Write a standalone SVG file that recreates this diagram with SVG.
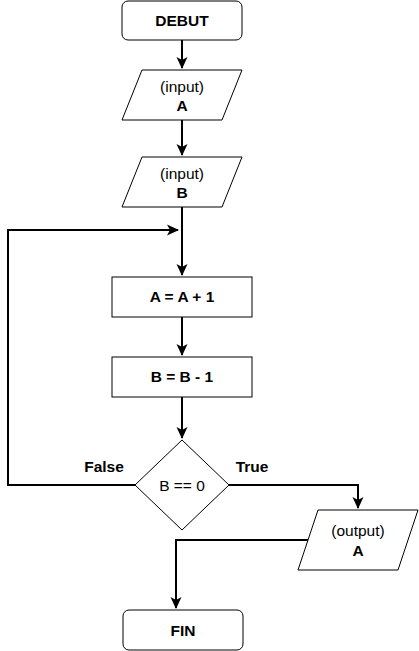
<svg xmlns="http://www.w3.org/2000/svg" width="419" height="651" viewBox="0 0 419 651">
<style>
.shape{fill:#fff;stroke:#000;stroke-width:1}
.t{font-family:"Liberation Sans",Arial,sans-serif;font-size:15.5px;text-anchor:middle;fill:#000}
.b{font-weight:bold}
.edge{fill:none;stroke:#000;stroke-width:2}
</style>
<defs>
<marker id="arr" markerUnits="userSpaceOnUse" viewBox="0 0 12 12" markerWidth="12" markerHeight="12" refX="11" refY="6" orient="auto">
<path d="M0,0.5 L12,6 L0,11.5 L3,6 z" fill="#000"/>
</marker>
</defs>
<g id="connectors">
<path class="edge" d="M182,40 V68" marker-end="url(#arr)"/>
<path class="edge" d="M182,120 V155" marker-end="url(#arr)"/>
<path class="edge" d="M182,207 V275" marker-end="url(#arr)"/>
<path class="edge" d="M135,485 H8 V230 H178" marker-end="url(#arr)"/>
<path class="edge" d="M182,317 V355" marker-end="url(#arr)"/>
<path class="edge" d="M182,397 V438" marker-end="url(#arr)"/>
<path class="edge" d="M229,485 H358 V508" marker-end="url(#arr)"/>
<path class="edge" d="M308,540 H176 V608" marker-end="url(#arr)"/>
<text class="t b" x="104" y="472">False</text>
<text class="t b" x="252" y="472">True</text>
</g>
<g id="debut">
<rect class="shape" x="122" y="1" width="120" height="39" rx="6"/>
<text class="t b" x="182" y="26">DEBUT</text>
</g>
<g id="inputA">
<polygon class="shape" points="142,70 242,70 222,120 122,120"/>
<text class="t" x="182" y="92">(input)</text>
<text class="t b" x="182" y="111">A</text>
</g>
<g id="inputB">
<polygon class="shape" points="142,157 242,157 222,207 122,207"/>
<text class="t" x="182" y="179">(input)</text>
<text class="t b" x="182" y="198">B</text>
</g>
<g id="incA">
<rect class="shape" x="112" y="277" width="140" height="40"/>
<text class="t b" x="182" y="302">A = A + 1</text>
</g>
<g id="decB">
<rect class="shape" x="112" y="357" width="140" height="40"/>
<text class="t b" x="182" y="382">B = B - 1</text>
</g>
<g id="cond">
<polygon class="shape" points="182,440 229,485 182,530 135,485"/>
<text class="t" x="182" y="491">B == 0</text>
</g>
<g id="outputA">
<polygon class="shape" points="318,510 418,510 398,570 298,570"/>
<text class="t" x="358" y="536">(output)</text>
<text class="t b" x="358" y="556">A</text>
</g>
<g id="fin">
<rect class="shape" x="123" y="610" width="120" height="40" rx="6"/>
<text class="t b" x="183" y="636">FIN</text>
</g>
</svg>
